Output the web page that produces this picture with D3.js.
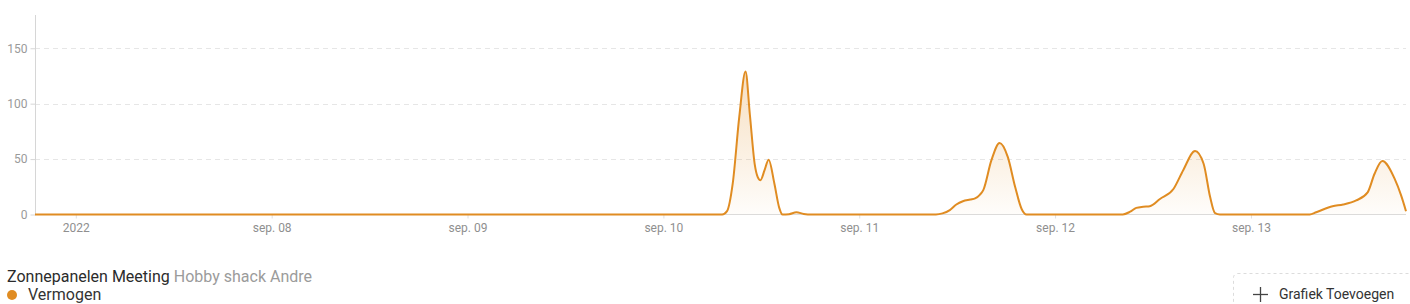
<!DOCTYPE html>
<html>
<head>
<meta charset="utf-8">
<script src="https://cdn.jsdelivr.net/npm/d3@7"></script>
<style>
  html, body { margin: 0; padding: 0; background: #fff; }
  body { width: 1410px; height: 304px; overflow: hidden; font-family: Roboto, "Noto Sans", sans-serif; }
  svg { display: block; }
</style>
</head>
<body>
<svg id="chart" width="1410" height="304"></svg>
<script>
// ---- data ----
const title = "Zonnepanelen Meeting";
const subtitle = "Hobby shack Andre";
const seriesName = "Vermogen";
const buttonLabel = "Grafiek Toevoegen";
const domainStart = "2022-09-06T19:00";
const domainEnd = "2022-09-13T19:00";
const yTicks = [0, 50, 100, 150];
const xTickDates = ["2022-09-07", "2022-09-08", "2022-09-09", "2022-09-10", "2022-09-11", "2022-09-12", "2022-09-13"];
const xTickLabels = ["2022", "sep. 08", "sep. 09", "sep. 10", "sep. 11", "sep. 12", "sep. 13"];
const times = [
  "2022-09-06T19:00", "2022-09-10T07:12", "2022-09-10T07:48", "2022-09-10T08:30", "2022-09-10T09:18",
  "2022-09-10T10:04", "2022-09-10T10:36", "2022-09-10T11:12", "2022-09-10T11:33", "2022-09-10T11:54",
  "2022-09-10T12:24", "2022-09-10T12:54", "2022-09-10T13:36", "2022-09-10T14:12", "2022-09-10T14:36",
  "2022-09-10T15:24", "2022-09-10T16:18", "2022-09-10T17:12", "2022-09-10T18:12",
  "2022-09-11T09:24", "2022-09-11T10:12", "2022-09-11T11:06", "2022-09-11T11:54", "2022-09-11T12:42",
  "2022-09-11T13:36", "2022-09-11T14:12", "2022-09-11T14:48", "2022-09-11T15:12", "2022-09-11T16:12",
  "2022-09-11T17:12", "2022-09-11T18:12", "2022-09-11T19:06", "2022-09-11T19:54", "2022-09-11T20:30",
  "2022-09-12T08:18", "2022-09-12T09:12", "2022-09-12T09:57", "2022-09-12T10:48", "2022-09-12T11:36",
  "2022-09-12T12:51", "2022-09-12T14:30", "2022-09-12T15:42", "2022-09-12T17:09", "2022-09-12T18:12",
  "2022-09-12T19:00", "2022-09-12T19:36", "2022-09-12T20:12",
  "2022-09-13T07:12", "2022-09-13T08:00", "2022-09-13T10:00", "2022-09-13T11:18", "2022-09-13T12:54",
  "2022-09-13T14:18", "2022-09-13T15:09", "2022-09-13T16:06", "2022-09-13T17:36", "2022-09-13T18:24",
  "2022-09-13T19:00"
];
const values = [
  0, 0, 3, 28, 88,
  129, 90, 45, 34, 31,
  40, 49.5, 28, 6, 0,
  0.3, 2, 0.5, 0,
  0, 1, 4, 9, 12,
  13.5, 14.5, 18, 22, 49,
  64.5, 52, 25, 5, 0,
  0, 2.5, 6, 7, 7.5,
  14, 23, 40, 57.3, 45.8,
  15.7, 1.2, 0,
  0, 2, 7.5, 9, 12.7,
  20, 36.8, 48.2, 32.3, 17.2,
  3
];

// ---- layout ----
const color = "#e08c22";
const margin = { left: 35, top: 15 };
const plotBottom = 214.5, plotRight = 1406;

const svg = d3.select("#chart");
const parse = d3.timeParse("%Y-%m-%dT%H:%M");
const parseDay = d3.timeParse("%Y-%m-%d");
const data = times.map((t, i) => ({ t: parse(t), v: values[i] }));

const x = d3.scaleTime().domain([parse(domainStart), parse(domainEnd)]).range([margin.left, plotRight]);
const y = d3.scaleLinear().domain([0, 180]).range([plotBottom, margin.top]);

// gradient
const defs = svg.append("defs");
const grad = defs.append("linearGradient").attr("id", "fillGrad")
  .attr("gradientUnits", "userSpaceOnUse")
  .attr("x1", 0).attr("x2", 0).attr("y1", y(130)).attr("y2", plotBottom);
grad.append("stop").attr("offset", "0%").attr("stop-color", color).attr("stop-opacity", 0.28);
grad.append("stop").attr("offset", "100%").attr("stop-color", color).attr("stop-opacity", 0.02);

// grid lines
svg.append("g").selectAll("line").data(yTicks.filter(d => d > 0)).join("line")
  .attr("x1", margin.left).attr("x2", plotRight)
  .attr("y1", d => Math.round(y(d)) + 0.5).attr("y2", d => Math.round(y(d)) + 0.5)
  .attr("stroke", "#e6e6e6").attr("stroke-dasharray", "5,4").attr("stroke-width", 1);

// baseline
svg.append("line").attr("x1", margin.left).attr("x2", plotRight)
  .attr("y1", plotBottom).attr("y2", plotBottom)
  .attr("stroke", "#dcdcdc").attr("stroke-width", 1);

// y axis
const yAxis = d3.axisLeft(y).tickValues(yTicks).tickSize(5).tickPadding(3).tickFormat(d3.format("d"));
const gy = svg.append("g").attr("transform", `translate(${margin.left + 0.5},0)`).call(yAxis);
gy.select(".domain").remove();
gy.selectAll(".tick line").attr("stroke", "#d6d6d6");
gy.selectAll(".tick text").attr("fill", "#9a9a9a").attr("font-size", 12).attr("font-family", "Roboto, sans-serif");
svg.append("line").attr("x1", margin.left + 0.5).attr("x2", margin.left + 0.5)
  .attr("y1", margin.top).attr("y2", plotBottom).attr("stroke", "#d6d6d6");

// x axis
const xAxis = d3.axisBottom(x).tickValues(xTickDates.map(parseDay)).tickSize(4).tickPadding(5)
  .tickFormat((d, i) => xTickLabels[i]);
const gx = svg.append("g").attr("transform", `translate(0,${plotBottom})`).call(xAxis);
gx.select(".domain").remove();
gx.selectAll(".tick line").attr("stroke", "#e0e0e0");
gx.selectAll(".tick text").attr("fill", "#8f8f8f").attr("font-size", 12).attr("font-family", "Roboto, sans-serif");

// area + line
const area = d3.area().x(d => x(d.t)).y0(plotBottom).y1(d => y(d.v)).curve(d3.curveMonotoneX);
const line = d3.line().x(d => x(d.t)).y(d => y(d.v)).curve(d3.curveMonotoneX);
svg.append("path").datum(data).attr("d", area).attr("fill", "url(#fillGrad)");
svg.append("path").datum(data).attr("d", line).attr("fill", "none")
  .attr("stroke", color).attr("stroke-width", 2).attr("stroke-linejoin", "round");

// legend / title
const tt = svg.append("text").attr("x", 7).attr("y", 281.5).attr("font-size", 16).attr("font-family", "Roboto, sans-serif");
tt.append("tspan").attr("fill", "#2b2b2b").text(title);
tt.append("tspan").attr("fill", "#9b9b9b").attr("dx", 4).text(subtitle);
svg.append("circle").attr("cx", 12).attr("cy", 295).attr("r", 5).attr("fill", color);
svg.append("text").attr("x", 28).attr("y", 300).attr("font-size", 16).attr("fill", "#333")
  .attr("font-family", "Roboto, sans-serif").text(seriesName);

// add-graph button
svg.append("rect").attr("x", 1233.5).attr("y", 273.5).attr("width", 190).attr("height", 60).attr("rx", 4)
  .attr("fill", "none").attr("stroke", "#dcdcdc").attr("stroke-dasharray", "3,3");
svg.append("line").attr("x1", 1253).attr("x2", 1268).attr("y1", 294.5).attr("y2", 294.5).attr("stroke", "#444").attr("stroke-width", 1.3);
svg.append("line").attr("x1", 1260.5).attr("x2", 1260.5).attr("y1", 287).attr("y2", 302).attr("stroke", "#444").attr("stroke-width", 1.3);
svg.append("text").attr("x", 1279).attr("y", 299).attr("font-size", 14).attr("fill", "#333")
  .attr("font-family", "Roboto, sans-serif").text(buttonLabel);
</script>
</body>
</html>
